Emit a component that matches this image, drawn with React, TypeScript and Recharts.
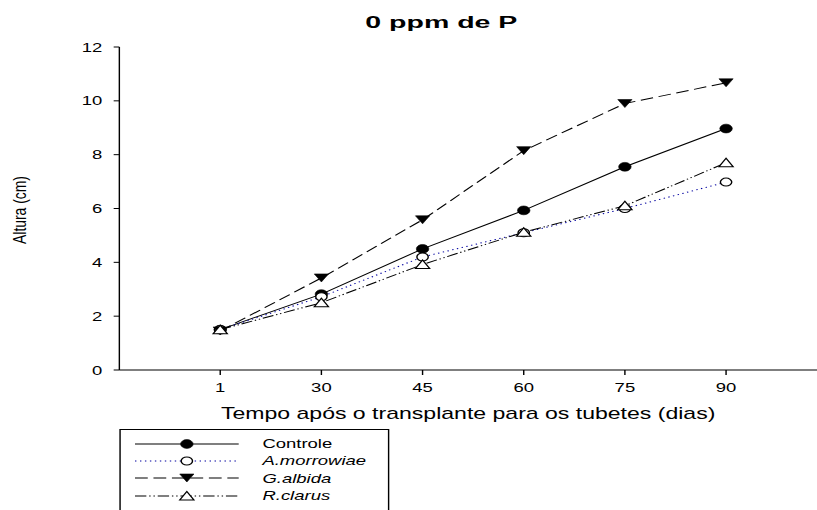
import { LineChart, Line, XAxis, YAxis, Legend } from 'recharts';

// x categories (days after transplant) and heights (cm)
const days = ['1', '30', '45', '60', '75', '90'];
const controle = [1.5, 2.82, 4.5, 5.93, 7.55, 8.97];
const morrowiae = [1.5, 2.72, 4.2, 5.1, 6.0, 6.98];
const albida = [1.45, 3.42, 5.58, 8.15, 9.9, 10.67];
const clarus = [1.5, 2.5, 3.92, 5.12, 6.1, 7.7];
const yTicks = [0, 2, 4, 6, 8, 10, 12];

const chartTitle = '0 ppm de P';
const xTitle = 'Tempo após o transplante para os tubetes (dias)';
const yTitle = 'Altura (cm)';

const FONT = "'Liberation Sans', Arial, Helvetica, sans-serif";

// the original image is stretched sideways, so draw narrow and scale in x
const W = 575;
const H = 510;
const STRETCH = 817 / W;

type Marker = 'filledCircle' | 'openCircle' | 'filledDown' | 'openUp';

interface Series {
    key: string;
    name: string;
    italic: boolean;
    stroke: string;
    dash?: string;
    marker: Marker;
}

const series: Series[] = [
    { key: 'controle', name: 'Controle', italic: false, stroke: '#000000', marker: 'filledCircle' },
    { key: 'morrowiae', name: 'A.morrowiae', italic: true, stroke: '#0000a0', dash: '1 2.5', marker: 'openCircle' },
    { key: 'albida', name: 'G.albida', italic: true, stroke: '#000000', dash: '9 4', marker: 'filledDown' },
    { key: 'clarus', name: 'R.clarus', italic: true, stroke: '#000000', dash: '8 2 1 2 1 2', marker: 'openUp' },
];

const data = days.map((day, i) => ({
    day,
    controle: controle[i],
    morrowiae: morrowiae[i],
    albida: albida[i],
    clarus: clarus[i],
}));

function drawMarker(marker: Marker, cx: number, cy: number, key?: string) {
    switch (marker) {
        case 'filledCircle':
            return <circle key={key} cx={cx} cy={cy} r={4.4} fill="#000" stroke="#000" strokeWidth={0.5} />;
        case 'openCircle':
            return <circle key={key} cx={cx} cy={cy} r={4} fill="#fff" stroke="#000" strokeWidth={1} />;
        case 'filledDown':
            return (
                <path
                    key={key}
                    d={`M${cx - 5},${cy - 4} L${cx + 5},${cy - 4} L${cx},${cy + 4} Z`}
                    fill="#000"
                    stroke="#000"
                    strokeWidth={0.5}
                />
            );
        case 'openUp':
        default:
            return (
                <path
                    key={key}
                    d={`M${cx},${cy - 4.5} L${cx + 5},${cy + 4} L${cx - 5},${cy + 4} Z`}
                    fill="#fff"
                    stroke="#000"
                    strokeWidth={1}
                />
            );
    }
}

function renderLegend() {
    return (
        <div
            style={{
                border: '1px solid #000',
                boxSizing: 'border-box',
                width: 190,
                height: 110,
                paddingTop: 5,
                background: '#fff',
                fontFamily: FONT,
                fontSize: 13,
                color: '#000',
            }}
        >
            {series.map((s) => (
                <div key={s.key} style={{ display: 'flex', alignItems: 'center', height: 17.3 }}>
                    <svg width={73} height={12} style={{ marginLeft: 9.7, overflow: 'visible' }}>
                        <line x1={0} y1={6} x2={73} y2={6} stroke={s.stroke} strokeWidth={1} strokeDasharray={s.dash} />
                        {drawMarker(s.marker, 36.5, 6)}
                    </svg>
                    <span style={{ marginLeft: 17, fontStyle: s.italic ? 'italic' : 'normal' }}>{s.name}</span>
                </div>
            ))}
        </div>
    );
}

export default function App() {
    return (
        <div style={{ position: 'absolute', left: 0, top: 0, width: 817, height: H, overflow: 'hidden', background: '#fff' }}>
            <div style={{ width: W, height: H, transform: `scaleX(${STRETCH})`, transformOrigin: '0 0' }}>
                <LineChart width={W} height={H} data={data} margin={{ top: 47, right: 0, bottom: 110, left: 0 }}>
                    <XAxis
                        dataKey="day"
                        type="category"
                        height={30}
                        padding={{ left: 71, right: 64 }}
                        stroke="#000"
                        tickSize={5}
                        tickMargin={8}
                        tick={{ fill: '#000', fontSize: 13, fontFamily: FONT }}
                        tickLine={{ stroke: '#000' }}
                        axisLine={{ stroke: '#000' }}
                        interval={0}
                    />
                    <YAxis
                        type="number"
                        width={84}
                        domain={[0, 12]}
                        ticks={yTicks}
                        stroke="#000"
                        tickSize={4}
                        tickMargin={8}
                        tick={{ fill: '#000', fontSize: 13, fontFamily: FONT }}
                        tickLine={{ stroke: '#000' }}
                        axisLine={{ stroke: '#000' }}
                    />
                    {series.map((s) => (
                        <Line
                            key={s.key}
                            type="linear"
                            dataKey={s.key}
                            name={s.name}
                            stroke={s.stroke}
                            strokeWidth={1}
                            strokeDasharray={s.dash}
                            isAnimationActive={false}
                            dot={(p: any) => drawMarker(s.marker, p.cx, p.cy, `${s.key}-${p.index}`)}
                            activeDot={false}
                        />
                    ))}
                    <Legend
                        layout="vertical"
                        align="center"
                        verticalAlign="middle"
                        content={renderLegend}
                        wrapperStyle={{ left: 84, top: 429, width: 190 }}
                    />
                    <text
                        x={310.6}
                        y={28}
                        textAnchor="middle"
                        fontFamily={FONT}
                        fontWeight="bold"
                        fontSize={17}
                        textLength={107}
                        lengthAdjust="spacingAndGlyphs"
                        fill="#000"
                    >
                        {chartTitle}
                    </text>
                    <text
                        x={329.5}
                        y={419}
                        textAnchor="middle"
                        fontFamily={FONT}
                        fontSize={16}
                        textLength={348}
                        lengthAdjust="spacingAndGlyphs"
                        fill="#000"
                    >
                        {xTitle}
                    </text>
                    <text
                        x={13.4}
                        y={210}
                        dy="0.35em"
                        transform="rotate(-90, 13.4, 210)"
                        textAnchor="middle"
                        fontFamily={FONT}
                        fontSize={13.5}
                        textLength={68}
                        lengthAdjust="spacingAndGlyphs"
                        fill="#000"
                    >
                        {yTitle}
                    </text>
                </LineChart>
            </div>
        </div>
    );
}
